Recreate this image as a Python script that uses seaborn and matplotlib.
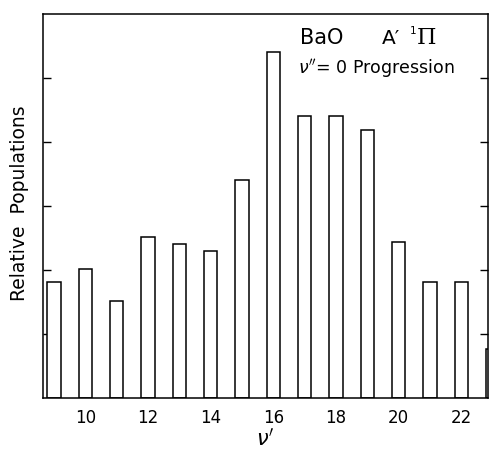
import matplotlib
matplotlib.use("Agg")
import matplotlib.pyplot as plt
import seaborn as sns
import pandas as pd

# Vibrational levels v' of the A'1Pi state and their relative populations
levels = [9, 10, 11, 12, 13, 14, 15, 16, 17, 18, 19, 20, 21, 22, 23]
populations = [1.81, 2.01, 1.52, 2.52, 2.40, 2.30, 3.41, 5.40, 4.41, 4.41, 4.19,
               2.43, 1.82, 1.82, 0.77]
xtick_values = [10, 12, 14, 16, 18, 20, 22]

sns.set_theme(style="ticks")
plt.rcParams["font.family"] = ["DejaVu Sans"]
plt.rcParams.update({
    "text.color": "black",
    "axes.labelcolor": "black",
    "xtick.color": "black",
    "ytick.color": "black",
    "axes.edgecolor": "black",
})

df = pd.DataFrame({"level": levels, "population": populations})

fig = plt.figure(figsize=(4.9, 4.5), dpi=100)
ax = fig.add_axes([43 / 490, 1 - 398 / 450, 445 / 490, 384 / 450])

sns.barplot(data=df, x="level", y="population", native_scale=True, width=0.42,
            color="white", edgecolor="black", linewidth=1.1, saturation=1,
            ax=ax)

ax.set_xlim(8.65, 22.85)
ax.set_ylim(0, 6)

# Frame on all four sides
for side in ["left", "right", "top", "bottom"]:
    ax.spines[side].set_visible(True)
    ax.spines[side].set_color("black")
    ax.spines[side].set_linewidth(1.1)

ax.set_xticks(xtick_values)
ax.set_xticklabels([str(v) for v in xtick_values], fontsize=12)
ax.tick_params(axis="x", length=0, pad=8)
ax.set_yticks([1, 2, 3, 4, 5])
ax.set_yticklabels([])
ax.tick_params(axis="y", direction="in", length=6, width=1.0,
               left=True, right=True, color="black")

ax.set_xlabel(r"$\nu'$", fontsize=15, labelpad=0)
ax.set_ylabel("Relative  Populations", fontsize=13.5)
ax.yaxis.set_label_coords(-0.031, 0.508)

# Title block inside the frame
ax.text(0.578, 0.922, "BaO", transform=ax.transAxes, fontsize=15,
        ha="left", va="baseline")
ax.text(0.762, 0.922, "A′", transform=ax.transAxes, fontsize=14.5,
        ha="left", va="baseline")
ax.text(0.824, 0.948, "1", transform=ax.transAxes, fontsize=7.5,
        ha="left", va="baseline")
ax.text(0.841, 0.922, "Π", transform=ax.transAxes, fontsize=16,
        ha="left", va="baseline", family="DejaVu Serif")
ax.text(0.573, 0.844, r"$\nu''$= 0 Progression", transform=ax.transAxes,
        fontsize=12.5, ha="left", va="baseline")

fig.savefig("out.png", dpi=100, facecolor="white")
